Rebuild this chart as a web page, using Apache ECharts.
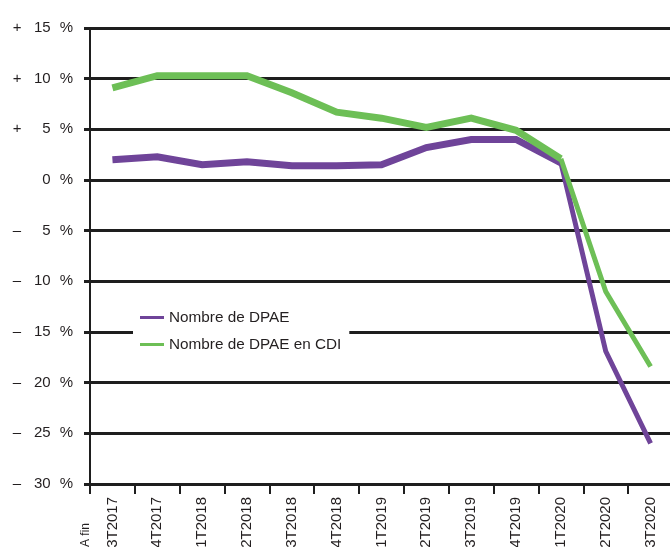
<!DOCTYPE html>
<html>
<head>
<meta charset="utf-8">
<script src="https://cdn.jsdelivr.net/npm/echarts@6/dist/echarts.min.js"></script>
<style>
html,body{margin:0;padding:0;background:#fff;}
#chart{width:670px;height:547px;}
</style>
</head>
<body>
<div id="chart"></div>
<script>
const categories = ['3T2017','4T2017','1T2018','2T2018','3T2018','4T2018','1T2019','2T2019','3T2019','4T2019','1T2020','2T2020','3T2020'];
const dpae    = [2.0, 2.3, 1.5, 1.8, 1.4, 1.4, 1.5, 3.2, 4.0, 4.0, 1.7, -16.9, -26.0];
const dpaeCdi = [9.1, 10.3, 10.3, 10.3, 8.6, 6.7, 6.1, 5.2, 6.1, 4.9, 2.1, -11.0, -18.4];
const seriesNames = ['Nombre de DPAE', 'Nombre de DPAE en CDI'];
const yMin = -30, yMax = 15, yStep = 5;
const xStartLabel = 'A fin';

const PURPLE = '#6f4499', GREEN = '#6dbf56', INK = '#1e1e1e', TXT = '#231f20';
const FONT = '"Liberation Sans", Arial, sans-serif';
const SPLIT = 10; // index where the lines become thinner

function head(arr){ return arr.map((v,i)=> i<=SPLIT ? v : '-'); }
function tail(arr){ return arr.map((v,i)=> i>=SPLIT ? v : '-'); }

function lineSeries(name, data, color, width){
  return { name, type:'line', data, symbol:'none', silent:true,
    lineStyle:{color, width, cap:'butt', join:'miter'}, itemStyle:{color},
    animation:false };
}

const chart = echarts.init(document.getElementById('chart'));
chart.setOption({
  animation:false,
  grid:{left:90, right:-3, top:28, bottom:63, containLabel:false, outerBoundsMode:'none'},
  legend:{
    data:seriesNames, orient:'vertical', left:133, top:302,
    backgroundColor:'#fff', padding:[8,8,9,7], itemGap:12,
    icon:'rect', itemWidth:24, itemHeight:3,
    textStyle:{fontFamily:FONT, fontSize:15.3, color:TXT}
  },
  xAxis:{
    type:'category', data:categories, boundaryGap:true,
    axisLine:{onZero:false, lineStyle:{color:INK, width:3}},
    axisTick:{show:true, length:10, lineStyle:{color:INK, width:2}},
    axisLabel:{rotate:90, margin:13, fontFamily:FONT, fontSize:15, color:TXT}
  },
  yAxis:{
    type:'value', min:yMin, max:yMax, interval:yStep,
    axisLine:{show:true, lineStyle:{color:INK, width:2}},
    axisTick:{show:true, length:6, lineStyle:{color:INK, width:3}},
    splitLine:{show:true, lineStyle:{color:INK, width:3}},
    axisLabel:{
      margin:17, align:'right', fontFamily:FONT, fontSize:15, color:TXT,
      formatter:function(v){
        const s = v>0 ? '+' : (v<0 ? '–' : ' ');
        return '{s|'+s+'}{n|'+Math.abs(v)+'}{p|%}';
      },
      rich:{
        s:{width:19, align:'left', fontFamily:FONT, fontSize:15, color:TXT},
        n:{width:19, align:'right', fontFamily:FONT, fontSize:15, color:TXT},
        p:{padding:[0,0,0,9], fontFamily:FONT, fontSize:15, color:TXT}
      }
    }
  },
  graphic:[{
    type:'text', x:92, y:547, rotation:Math.PI/2,
    style:{text:xStartLabel, textAlign:'left', textVerticalAlign:'bottom',
      font:'12px "Liberation Sans", Arial, sans-serif', fill:TXT}
  }],
  series:[
    lineSeries(seriesNames[0], tail(dpae), PURPLE, 5),
    lineSeries(seriesNames[0], head(dpae), PURPLE, 7),
    lineSeries(seriesNames[1], tail(dpaeCdi), GREEN, 5),
    lineSeries(seriesNames[1], head(dpaeCdi), GREEN, 7)
  ]
});
</script>
</body>
</html>
